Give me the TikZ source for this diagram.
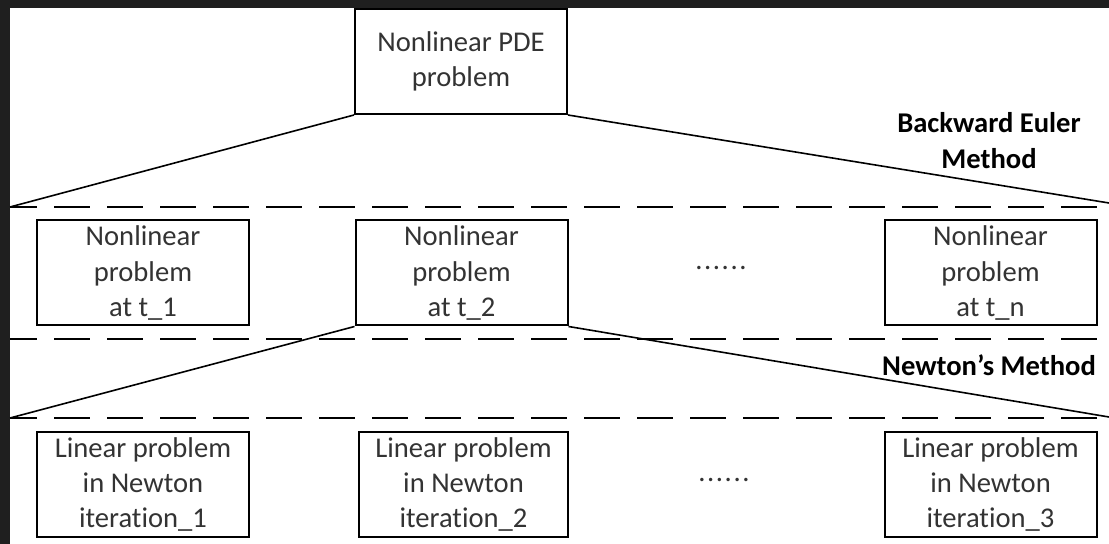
\documentclass[tikz,border=0pt]{standalone}
\usepackage{fontspec}
\setmainfont{Carlito}[Ligatures={NoCommon,NoContextual}]
\usepackage{xcolor}
\usepackage{tikz}
\usetikzlibrary{positioning}

\tikzset{
  prob/.style={draw, line width=1pt, minimum width=106pt, minimum height=52.5pt,
    inner sep=0pt, align=center, text=black!80, font=\fontsize{14.3}{17.7}\selectfont},
  method/.style={align=center, font=\fontsize{14.3}{17.7}\selectfont\bfseries},
  dots/.style={anchor=base, text=black!80, font=\fontsize{14.3}{17.7}\selectfont},
  level/.style={line width=1pt, dash pattern=on 18pt off 8.5pt, dash phase=4.5pt},
  link/.style={line width=0.8pt}
}

\begin{document}
\begin{tikzpicture}[x=0.5pt,y=-0.5pt]
  \useasboundingbox (0,0) rectangle (1109,544);
  \fill[black!88] (0,0) rectangle (1109,544);
  \fill[white] (10,8) rectangle (1109,544);

  \def\dotrow{.\kern0.8pt.\kern0.8pt.\kern0.8pt.\kern0.8pt.\kern0.8pt.}

  % top problem
  \node[prob] (pde) at (461,61.5) {Nonlinear PDE\\problem};
  \node[method] (euler) at (989,140.5) {Backward Euler\\Method};

  % time steps
  \node[prob] (t1) at (143,273) {Nonlinear\\problem\\at t\_1};
  \node[prob] (t2) at (461.5,273) {Nonlinear\\problem\\at t\_2};
  \node[dots] (tdots) at (721,270) {\dotrow};
  \node[prob] (tn) at (990.5,273) {Nonlinear\\problem\\at t\_n};

  \node[method] (newton) at (989,365) {Newton’s Method};

  % newton iterations
  \node[prob] (it1) at (143,484.5) {Linear problem\\in Newton\\it{}eration\_1};
  \node[prob, minimum width=104.5pt] (it2) at (463.5,484.5) {Linear problem\\in Newton\\it{}eration\_2};
  \node[dots] (idots) at (724,482) {\dotrow};
  \node[prob] (it3) at (990.5,484.5) {Linear problem\\in Newton\\it{}eration\_3};

  % levels
  \draw[level] (10,207) -- (1097,207);
  \draw[level] (10,339) -- (1109,339);
  \draw[level] (10,418) -- (1097,418);

  \coordinate (A1) at (10,207);
  \coordinate (A2) at (1109,203);
  \coordinate (B1) at (10,418);
  \coordinate (B2) at (1109,417);

  \draw[link] (pde.south west) -- (A1);
  \draw[link] (pde.south east) -- (A2);
  \draw[link] (t2.south west) -- (B1);
  \draw[link] (t2.south east) -- (B2);
\end{tikzpicture}
\end{document}
